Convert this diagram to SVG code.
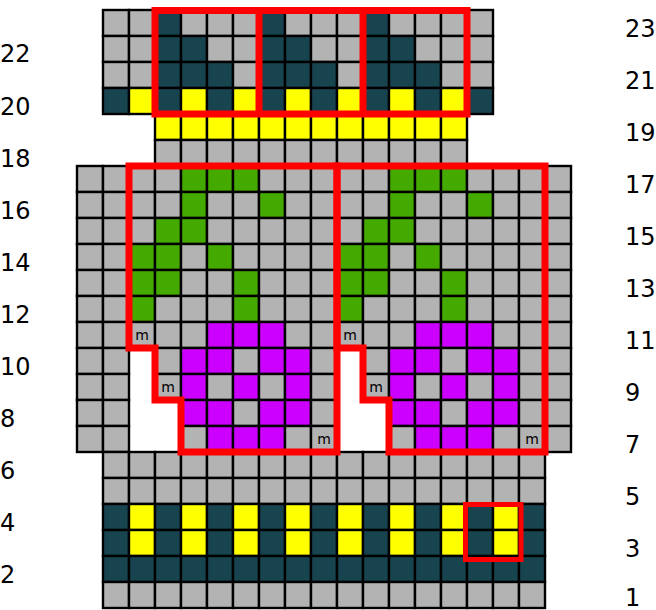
<svg xmlns="http://www.w3.org/2000/svg" width="656" height="610" viewBox="0 0 656 610">
<style>
rect.c{width:26px;height:26px;stroke:#000;stroke-width:2.4}
.g{fill:#b3b3b3}.d{fill:#184450}.y{fill:#ffff00}.e{fill:#44aa00}.p{fill:#cc00ff}
.red{fill:none;stroke:#ff0000;stroke-width:7;stroke-linejoin:miter}
.lbl{font-family:"DejaVu Sans",sans-serif;font-size:24px;fill:#000}
.m{font-family:"DejaVu Sans",sans-serif;font-size:14px;fill:#000;text-anchor:middle}
</style>
<rect width="656" height="610" fill="#fff"/>
<g id="rows-20-23">
<rect class="c g" x="103" y="10"/><rect class="c g" x="129" y="10"/><rect class="c d" x="155" y="10"/><rect class="c g" x="181" y="10"/><rect class="c g" x="207" y="10"/><rect class="c g" x="233" y="10"/><rect class="c d" x="259" y="10"/><rect class="c g" x="285" y="10"/><rect class="c g" x="311" y="10"/><rect class="c g" x="337" y="10"/><rect class="c d" x="363" y="10"/><rect class="c g" x="389" y="10"/><rect class="c g" x="415" y="10"/><rect class="c g" x="441" y="10"/><rect class="c g" x="467" y="10"/>
<rect class="c g" x="103" y="36"/><rect class="c g" x="129" y="36"/><rect class="c d" x="155" y="36"/><rect class="c d" x="181" y="36"/><rect class="c g" x="207" y="36"/><rect class="c g" x="233" y="36"/><rect class="c d" x="259" y="36"/><rect class="c d" x="285" y="36"/><rect class="c g" x="311" y="36"/><rect class="c g" x="337" y="36"/><rect class="c d" x="363" y="36"/><rect class="c d" x="389" y="36"/><rect class="c g" x="415" y="36"/><rect class="c g" x="441" y="36"/><rect class="c g" x="467" y="36"/>
<rect class="c g" x="103" y="62"/><rect class="c g" x="129" y="62"/><rect class="c d" x="155" y="62"/><rect class="c d" x="181" y="62"/><rect class="c d" x="207" y="62"/><rect class="c g" x="233" y="62"/><rect class="c d" x="259" y="62"/><rect class="c d" x="285" y="62"/><rect class="c d" x="311" y="62"/><rect class="c g" x="337" y="62"/><rect class="c d" x="363" y="62"/><rect class="c d" x="389" y="62"/><rect class="c d" x="415" y="62"/><rect class="c g" x="441" y="62"/><rect class="c g" x="467" y="62"/>
<rect class="c d" x="103" y="88"/><rect class="c y" x="129" y="88"/><rect class="c d" x="155" y="88"/><rect class="c y" x="181" y="88"/><rect class="c d" x="207" y="88"/><rect class="c y" x="233" y="88"/><rect class="c d" x="259" y="88"/><rect class="c y" x="285" y="88"/><rect class="c d" x="311" y="88"/><rect class="c y" x="337" y="88"/><rect class="c d" x="363" y="88"/><rect class="c y" x="389" y="88"/><rect class="c d" x="415" y="88"/><rect class="c y" x="441" y="88"/><rect class="c d" x="467" y="88"/>
</g>
<g id="rows-18-19">
<rect class="c y" x="155" y="114"/><rect class="c y" x="181" y="114"/><rect class="c y" x="207" y="114"/><rect class="c y" x="233" y="114"/><rect class="c y" x="259" y="114"/><rect class="c y" x="285" y="114"/><rect class="c y" x="311" y="114"/><rect class="c y" x="337" y="114"/><rect class="c y" x="363" y="114"/><rect class="c y" x="389" y="114"/><rect class="c y" x="415" y="114"/><rect class="c y" x="441" y="114"/>
<rect class="c g" x="155" y="140"/><rect class="c g" x="181" y="140"/><rect class="c g" x="207" y="140"/><rect class="c g" x="233" y="140"/><rect class="c g" x="259" y="140"/><rect class="c g" x="285" y="140"/><rect class="c g" x="311" y="140"/><rect class="c g" x="337" y="140"/><rect class="c g" x="363" y="140"/><rect class="c g" x="389" y="140"/><rect class="c g" x="415" y="140"/><rect class="c g" x="441" y="140"/>
</g>
<g id="rows-7-17">
<rect class="c g" x="77" y="166"/><rect class="c g" x="103" y="166"/><rect class="c g" x="129" y="166"/><rect class="c g" x="155" y="166"/><rect class="c e" x="181" y="166"/><rect class="c e" x="207" y="166"/><rect class="c e" x="233" y="166"/><rect class="c g" x="259" y="166"/><rect class="c g" x="285" y="166"/><rect class="c g" x="311" y="166"/><rect class="c g" x="337" y="166"/><rect class="c g" x="363" y="166"/><rect class="c e" x="389" y="166"/><rect class="c e" x="415" y="166"/><rect class="c e" x="441" y="166"/><rect class="c g" x="467" y="166"/><rect class="c g" x="493" y="166"/><rect class="c g" x="519" y="166"/><rect class="c g" x="545" y="166"/>
<rect class="c g" x="77" y="192"/><rect class="c g" x="103" y="192"/><rect class="c g" x="129" y="192"/><rect class="c g" x="155" y="192"/><rect class="c e" x="181" y="192"/><rect class="c g" x="207" y="192"/><rect class="c g" x="233" y="192"/><rect class="c e" x="259" y="192"/><rect class="c g" x="285" y="192"/><rect class="c g" x="311" y="192"/><rect class="c g" x="337" y="192"/><rect class="c g" x="363" y="192"/><rect class="c e" x="389" y="192"/><rect class="c g" x="415" y="192"/><rect class="c g" x="441" y="192"/><rect class="c e" x="467" y="192"/><rect class="c g" x="493" y="192"/><rect class="c g" x="519" y="192"/><rect class="c g" x="545" y="192"/>
<rect class="c g" x="77" y="218"/><rect class="c g" x="103" y="218"/><rect class="c g" x="129" y="218"/><rect class="c e" x="155" y="218"/><rect class="c e" x="181" y="218"/><rect class="c g" x="207" y="218"/><rect class="c g" x="233" y="218"/><rect class="c g" x="259" y="218"/><rect class="c g" x="285" y="218"/><rect class="c g" x="311" y="218"/><rect class="c g" x="337" y="218"/><rect class="c e" x="363" y="218"/><rect class="c e" x="389" y="218"/><rect class="c g" x="415" y="218"/><rect class="c g" x="441" y="218"/><rect class="c g" x="467" y="218"/><rect class="c g" x="493" y="218"/><rect class="c g" x="519" y="218"/><rect class="c g" x="545" y="218"/>
<rect class="c g" x="77" y="244"/><rect class="c g" x="103" y="244"/><rect class="c e" x="129" y="244"/><rect class="c e" x="155" y="244"/><rect class="c g" x="181" y="244"/><rect class="c e" x="207" y="244"/><rect class="c g" x="233" y="244"/><rect class="c g" x="259" y="244"/><rect class="c g" x="285" y="244"/><rect class="c g" x="311" y="244"/><rect class="c e" x="337" y="244"/><rect class="c e" x="363" y="244"/><rect class="c g" x="389" y="244"/><rect class="c e" x="415" y="244"/><rect class="c g" x="441" y="244"/><rect class="c g" x="467" y="244"/><rect class="c g" x="493" y="244"/><rect class="c g" x="519" y="244"/><rect class="c g" x="545" y="244"/>
<rect class="c g" x="77" y="270"/><rect class="c g" x="103" y="270"/><rect class="c e" x="129" y="270"/><rect class="c e" x="155" y="270"/><rect class="c g" x="181" y="270"/><rect class="c g" x="207" y="270"/><rect class="c e" x="233" y="270"/><rect class="c g" x="259" y="270"/><rect class="c g" x="285" y="270"/><rect class="c g" x="311" y="270"/><rect class="c e" x="337" y="270"/><rect class="c e" x="363" y="270"/><rect class="c g" x="389" y="270"/><rect class="c g" x="415" y="270"/><rect class="c e" x="441" y="270"/><rect class="c g" x="467" y="270"/><rect class="c g" x="493" y="270"/><rect class="c g" x="519" y="270"/><rect class="c g" x="545" y="270"/>
<rect class="c g" x="77" y="296"/><rect class="c g" x="103" y="296"/><rect class="c e" x="129" y="296"/><rect class="c g" x="155" y="296"/><rect class="c g" x="181" y="296"/><rect class="c g" x="207" y="296"/><rect class="c e" x="233" y="296"/><rect class="c g" x="259" y="296"/><rect class="c g" x="285" y="296"/><rect class="c g" x="311" y="296"/><rect class="c e" x="337" y="296"/><rect class="c g" x="363" y="296"/><rect class="c g" x="389" y="296"/><rect class="c g" x="415" y="296"/><rect class="c e" x="441" y="296"/><rect class="c g" x="467" y="296"/><rect class="c g" x="493" y="296"/><rect class="c g" x="519" y="296"/><rect class="c g" x="545" y="296"/>
<rect class="c g" x="77" y="322"/><rect class="c g" x="103" y="322"/><rect class="c g" x="129" y="322"/><rect class="c g" x="155" y="322"/><rect class="c g" x="181" y="322"/><rect class="c p" x="207" y="322"/><rect class="c p" x="233" y="322"/><rect class="c p" x="259" y="322"/><rect class="c g" x="285" y="322"/><rect class="c g" x="311" y="322"/><rect class="c g" x="337" y="322"/><rect class="c g" x="363" y="322"/><rect class="c g" x="389" y="322"/><rect class="c p" x="415" y="322"/><rect class="c p" x="441" y="322"/><rect class="c p" x="467" y="322"/><rect class="c g" x="493" y="322"/><rect class="c g" x="519" y="322"/><rect class="c g" x="545" y="322"/>
<rect class="c g" x="77" y="348"/><rect class="c g" x="103" y="348"/><rect class="c g" x="155" y="348"/><rect class="c p" x="181" y="348"/><rect class="c p" x="207" y="348"/><rect class="c g" x="233" y="348"/><rect class="c p" x="259" y="348"/><rect class="c p" x="285" y="348"/><rect class="c g" x="311" y="348"/><rect class="c g" x="363" y="348"/><rect class="c p" x="389" y="348"/><rect class="c p" x="415" y="348"/><rect class="c g" x="441" y="348"/><rect class="c p" x="467" y="348"/><rect class="c p" x="493" y="348"/><rect class="c g" x="519" y="348"/><rect class="c g" x="545" y="348"/>
<rect class="c g" x="77" y="374"/><rect class="c g" x="103" y="374"/><rect class="c g" x="155" y="374"/><rect class="c p" x="181" y="374"/><rect class="c g" x="207" y="374"/><rect class="c p" x="233" y="374"/><rect class="c g" x="259" y="374"/><rect class="c p" x="285" y="374"/><rect class="c g" x="311" y="374"/><rect class="c g" x="363" y="374"/><rect class="c p" x="389" y="374"/><rect class="c g" x="415" y="374"/><rect class="c p" x="441" y="374"/><rect class="c g" x="467" y="374"/><rect class="c p" x="493" y="374"/><rect class="c g" x="519" y="374"/><rect class="c g" x="545" y="374"/>
<rect class="c g" x="77" y="400"/><rect class="c g" x="103" y="400"/><rect class="c p" x="181" y="400"/><rect class="c p" x="207" y="400"/><rect class="c g" x="233" y="400"/><rect class="c p" x="259" y="400"/><rect class="c p" x="285" y="400"/><rect class="c g" x="311" y="400"/><rect class="c p" x="389" y="400"/><rect class="c p" x="415" y="400"/><rect class="c g" x="441" y="400"/><rect class="c p" x="467" y="400"/><rect class="c p" x="493" y="400"/><rect class="c g" x="519" y="400"/><rect class="c g" x="545" y="400"/>
<rect class="c g" x="77" y="426"/><rect class="c g" x="103" y="426"/><rect class="c g" x="181" y="426"/><rect class="c p" x="207" y="426"/><rect class="c p" x="233" y="426"/><rect class="c p" x="259" y="426"/><rect class="c g" x="285" y="426"/><rect class="c g" x="311" y="426"/><rect class="c g" x="389" y="426"/><rect class="c p" x="415" y="426"/><rect class="c p" x="441" y="426"/><rect class="c p" x="467" y="426"/><rect class="c g" x="493" y="426"/><rect class="c g" x="519" y="426"/><rect class="c g" x="545" y="426"/>
</g>
<g id="rows-1-6">
<rect class="c g" x="103" y="452"/><rect class="c g" x="129" y="452"/><rect class="c g" x="155" y="452"/><rect class="c g" x="181" y="452"/><rect class="c g" x="207" y="452"/><rect class="c g" x="233" y="452"/><rect class="c g" x="259" y="452"/><rect class="c g" x="285" y="452"/><rect class="c g" x="311" y="452"/><rect class="c g" x="337" y="452"/><rect class="c g" x="363" y="452"/><rect class="c g" x="389" y="452"/><rect class="c g" x="415" y="452"/><rect class="c g" x="441" y="452"/><rect class="c g" x="467" y="452"/><rect class="c g" x="493" y="452"/><rect class="c g" x="519" y="452"/>
<rect class="c g" x="103" y="478"/><rect class="c g" x="129" y="478"/><rect class="c g" x="155" y="478"/><rect class="c g" x="181" y="478"/><rect class="c g" x="207" y="478"/><rect class="c g" x="233" y="478"/><rect class="c g" x="259" y="478"/><rect class="c g" x="285" y="478"/><rect class="c g" x="311" y="478"/><rect class="c g" x="337" y="478"/><rect class="c g" x="363" y="478"/><rect class="c g" x="389" y="478"/><rect class="c g" x="415" y="478"/><rect class="c g" x="441" y="478"/><rect class="c g" x="467" y="478"/><rect class="c g" x="493" y="478"/><rect class="c g" x="519" y="478"/>
<rect class="c d" x="103" y="504"/><rect class="c y" x="129" y="504"/><rect class="c d" x="155" y="504"/><rect class="c y" x="181" y="504"/><rect class="c d" x="207" y="504"/><rect class="c y" x="233" y="504"/><rect class="c d" x="259" y="504"/><rect class="c y" x="285" y="504"/><rect class="c d" x="311" y="504"/><rect class="c y" x="337" y="504"/><rect class="c d" x="363" y="504"/><rect class="c y" x="389" y="504"/><rect class="c d" x="415" y="504"/><rect class="c y" x="441" y="504"/><rect class="c d" x="467" y="504"/><rect class="c y" x="493" y="504"/><rect class="c d" x="519" y="504"/>
<rect class="c d" x="103" y="530"/><rect class="c y" x="129" y="530"/><rect class="c d" x="155" y="530"/><rect class="c y" x="181" y="530"/><rect class="c d" x="207" y="530"/><rect class="c y" x="233" y="530"/><rect class="c d" x="259" y="530"/><rect class="c y" x="285" y="530"/><rect class="c d" x="311" y="530"/><rect class="c y" x="337" y="530"/><rect class="c d" x="363" y="530"/><rect class="c y" x="389" y="530"/><rect class="c d" x="415" y="530"/><rect class="c y" x="441" y="530"/><rect class="c d" x="467" y="530"/><rect class="c y" x="493" y="530"/><rect class="c d" x="519" y="530"/>
<rect class="c d" x="103" y="556"/><rect class="c d" x="129" y="556"/><rect class="c d" x="155" y="556"/><rect class="c d" x="181" y="556"/><rect class="c d" x="207" y="556"/><rect class="c d" x="233" y="556"/><rect class="c d" x="259" y="556"/><rect class="c d" x="285" y="556"/><rect class="c d" x="311" y="556"/><rect class="c d" x="337" y="556"/><rect class="c d" x="363" y="556"/><rect class="c d" x="389" y="556"/><rect class="c d" x="415" y="556"/><rect class="c d" x="441" y="556"/><rect class="c d" x="467" y="556"/><rect class="c d" x="493" y="556"/><rect class="c d" x="519" y="556"/>
<rect class="c g" x="103" y="582"/><rect class="c g" x="129" y="582"/><rect class="c g" x="155" y="582"/><rect class="c g" x="181" y="582"/><rect class="c g" x="207" y="582"/><rect class="c g" x="233" y="582"/><rect class="c g" x="259" y="582"/><rect class="c g" x="285" y="582"/><rect class="c g" x="311" y="582"/><rect class="c g" x="337" y="582"/><rect class="c g" x="363" y="582"/><rect class="c g" x="389" y="582"/><rect class="c g" x="415" y="582"/><rect class="c g" x="441" y="582"/><rect class="c g" x="467" y="582"/><rect class="c g" x="493" y="582"/><rect class="c g" x="519" y="582"/>
</g>
<g id="marks">
<text class="m" x="142" y="340">m</text>
<text class="m" x="168" y="392">m</text>
<text class="m" x="324" y="444">m</text>
<text class="m" x="350" y="340">m</text>
<text class="m" x="376" y="392">m</text>
<text class="m" x="532" y="444">m</text>
</g>
<g id="repeat-outlines">
<path class="red" d="M155,10.5H467V114H155Z M259,10.5V114 M363,10.5V114"/>
<path class="red" d="M129,166H337V452H181V400H155V348H129Z"/>
<path class="red" d="M337,166H545V452H389V400H363V348H337Z"/>
<rect class="red" x="465.5" y="504.5" width="55.5" height="55" style="stroke-width:5"/>
</g>
<g id="row-numbers-left" class="lbl">
<text x="0" y="62">22</text>
<text x="0" y="114.5">20</text>
<text x="0" y="166.5">18</text>
<text x="0" y="218.5">16</text>
<text x="0" y="270.5">14</text>
<text x="0" y="322.5">12</text>
<text x="0" y="374.5">10</text>
<text x="0" y="426.5">8</text>
<text x="0" y="478.5">6</text>
<text x="0" y="530.5">4</text>
<text x="0" y="582.5">2</text>
</g>
<g id="row-numbers-right" class="lbl">
<text x="625" y="36.5">23</text>
<text x="625" y="88.5">21</text>
<text x="625" y="140.5">19</text>
<text x="625" y="192.5">17</text>
<text x="625" y="244.5">15</text>
<text x="625" y="296.5">13</text>
<text x="625" y="348.5">11</text>
<text x="625" y="400.5">9</text>
<text x="625" y="452.5">7</text>
<text x="625" y="504.5">5</text>
<text x="625" y="556.5">3</text>
<text x="625" y="606">1</text>
</g>
</svg>
